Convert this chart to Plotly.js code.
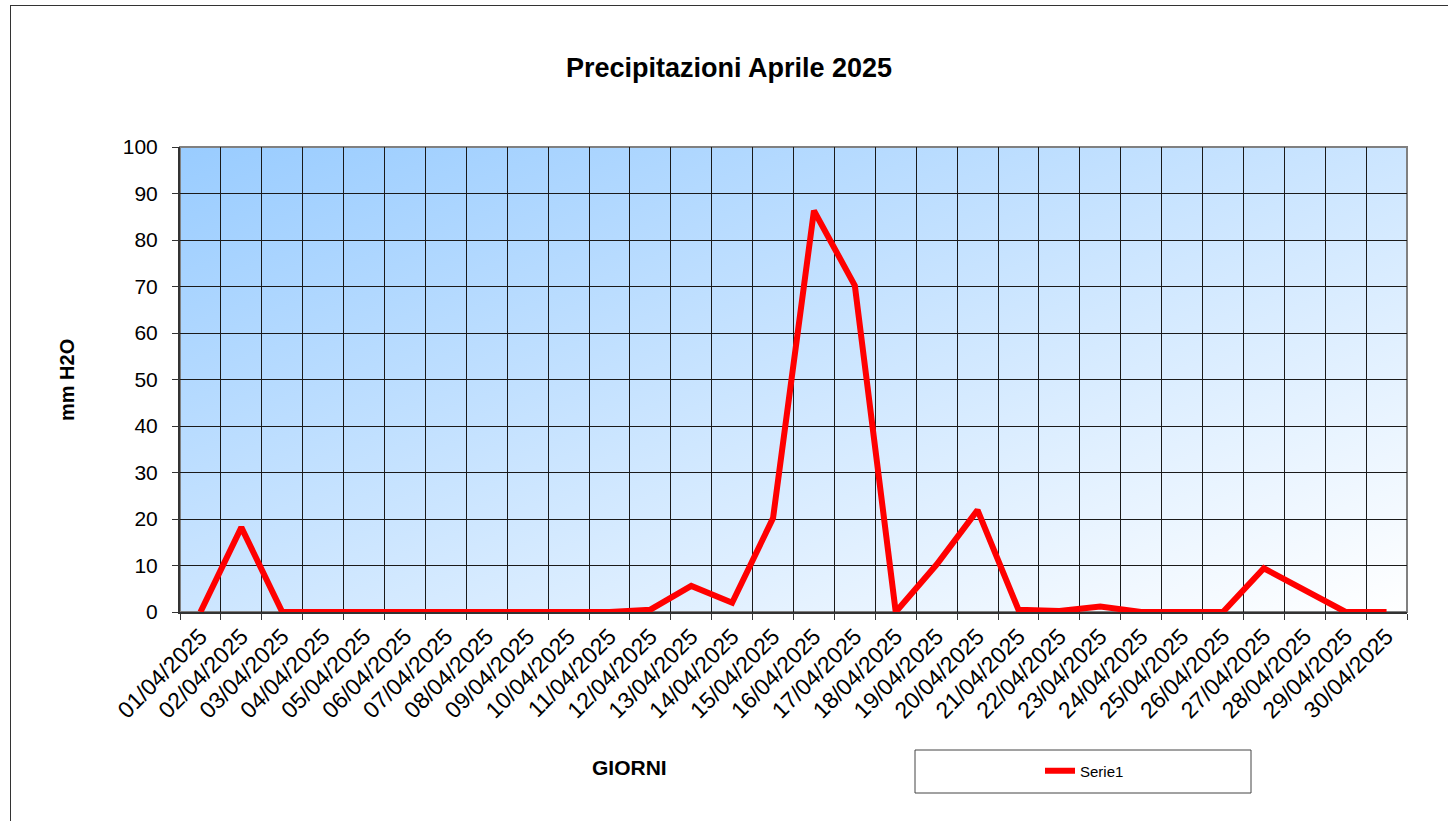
<!DOCTYPE html>
<html>
<head>
<meta charset="utf-8">
<script src="https://cdn.plot.ly/plotly-3.0.1.min.js"></script>
<style>
  html, body { margin: 0; padding: 0; background: #fff; }
  #chart { position: absolute; left: 0; top: 0; width: 1448px; height: 821px; }
  #frame { position: absolute; left: 10px; top: 5px; width: 1460px; height: 840px;
           border: 1px solid #333; pointer-events: none; box-sizing: border-box; }
</style>
</head>
<body>
<div id="chart"></div>
<div id="frame"></div>
<script>
// ---- data ----
const days = [
  "01/04/2025","02/04/2025","03/04/2025","04/04/2025","05/04/2025","06/04/2025",
  "07/04/2025","08/04/2025","09/04/2025","10/04/2025","11/04/2025","12/04/2025",
  "13/04/2025","14/04/2025","15/04/2025","16/04/2025","17/04/2025","18/04/2025",
  "19/04/2025","20/04/2025","21/04/2025","22/04/2025","23/04/2025","24/04/2025",
  "25/04/2025","26/04/2025","27/04/2025","28/04/2025","29/04/2025","30/04/2025"
];
const rainMm = [
  0, 18.2, 0, 0, 0, 0,
  0, 0, 0, 0, 0, 0.5,
  5.6, 2.0, 20.2, 86.3, 70.2, 0,
  10.2, 21.9, 0.5, 0.2, 1.2, 0,
  0, 0, 9.4, 4.7, 0, 0
];
const seriesName = "Serie1";
const chartTitle = "Precipitazioni Aprile 2025";
const xTitle = "GIORNI";
const yTitle = "mm H2O";

// ---- background gradient ----
const gradSvg = '<svg xmlns="http://www.w3.org/2000/svg" width="100" height="100" preserveAspectRatio="none" viewBox="0 0 100 100">' +
  '<defs><linearGradient id="g" x1="0" y1="0" x2="1" y2="1">' +
  '<stop offset="0" stop-color="#99CCFF"/><stop offset="1" stop-color="#FFFFFF"/>' +
  '</linearGradient></defs><rect width="100" height="100" fill="url(#g)"/></svg>';
const gradUri = 'data:image/svg+xml;base64,' + btoa(gradSvg);

const font = "Liberation Sans, Arial, sans-serif";

const trace = {
  type: "scatter",
  mode: "lines",
  x: days,
  y: rainMm,
  name: seriesName,
  line: { color: "#FF0000", width: 6 },
  showlegend: true
};

const layout = {
  width: 1448,
  height: 821,
  margin: { l: 180, r: 41, t: 147, b: 209 },
  paper_bgcolor: "#FFFFFF",
  plot_bgcolor: "rgba(0,0,0,0)",
  font: { family: font, color: "#000" },
  title: {
    text: "<b>" + chartTitle + "</b>",
    font: { family: font, size: 27, color: "#000" },
    xref: "container", x: 0.5035, xanchor: "center",
    yref: "container", y: 1 - 68/821, yanchor: "middle"
  },
  xaxis: {
    type: "category",
    range: [-0.5, 29.5],
    tickson: "boundaries",
    ticks: "outside", ticklen: 6, tickcolor: "#333", tickwidth: 1,
    tickangle: -45,
    tickfont: { family: font, size: 23, color: "#000" },
    showgrid: true, gridcolor: "#1a1a1a", gridwidth: 1,
    showline: true, linecolor: "#333", linewidth: 2,
    zeroline: false, fixedrange: true
  },
  yaxis: {
    range: [0, 100],
    dtick: 10,
    ticks: "outside", ticklen: 6, tickcolor: "#333", tickwidth: 1,
    ticklabelstandoff: 10,
    tickfont: { family: font, size: 21, color: "#000" },
    showgrid: true, gridcolor: "#1a1a1a", gridwidth: 1,
    showline: true, linecolor: "#333", linewidth: 2,
    zeroline: false, fixedrange: true
  },
  images: [{
    source: gradUri, xref: "paper", yref: "paper",
    x: 0, y: 1, sizex: 1, sizey: 1, xanchor: "left", yanchor: "top",
    sizing: "stretch", layer: "below"
  }],
  shapes: [
    { type: "rect", xref: "paper", yref: "paper", x0: 0, x1: 1, y0: 0, y1: 1,
      line: { color: "#808080", width: 2 }, fillcolor: "rgba(0,0,0,0)", layer: "below" },
    { type: "rect", xref: "paper", yref: "paper",
      x0: (915-180)/1227, x1: (1251-180)/1227, y0: (612-750)/465, y1: (612-793)/465,
      line: { color: "#444", width: 1 }, fillcolor: "rgba(0,0,0,0)" }
  ],
  annotations: [
    { text: "<b>" + xTitle + "</b>", xref: "paper", yref: "paper",
      x: (629-180)/1227, y: (612-767)/465, xanchor: "center", yanchor: "middle",
      showarrow: false, font: { family: font, size: 21, color: "#000" } },
    { text: "<b>" + yTitle + "</b>", xref: "paper", yref: "paper",
      x: (67-180)/1227, y: (612-380)/465, xanchor: "center", yanchor: "middle",
      textangle: -90, showarrow: false, font: { family: font, size: 20, color: "#000" } }
  ],
  showlegend: true,
  legend: {
    x: (1040-180)/1227, xanchor: "left",
    y: (612-771)/465, yanchor: "middle",
    bgcolor: "rgba(0,0,0,0)", borderwidth: 0,
    font: { family: font, size: 15, color: "#000" }
  }
};

Plotly.newPlot("chart", [trace], layout, { displayModeBar: false, staticPlot: true });
</script>
</body>
</html>
